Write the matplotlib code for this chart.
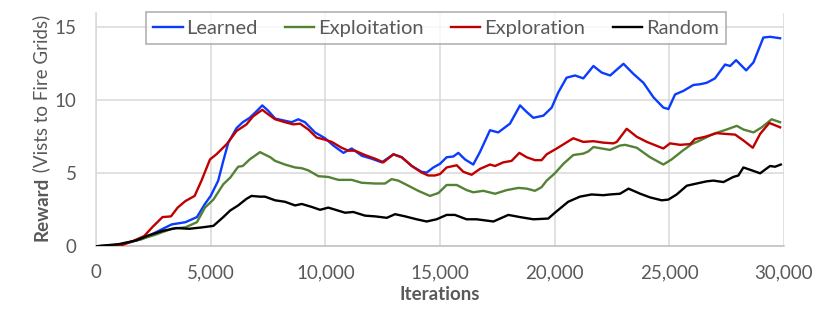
import matplotlib
matplotlib.use("Agg")
import matplotlib.pyplot as plt

# values
learned_x = [0, 1000, 1450, 2000, 2600, 3300, 3900, 4400, 4750, 5000, 5330, 5550, 5770, 6130,
             6400, 6700, 7000, 7250, 7500, 7810, 8530, 8820, 9110, 9550, 9990, 10350, 10790,
             11150, 11590, 12020, 12460, 12970, 13330, 13770, 14200, 14420, 14710, 15000,
             15290, 15580, 15800, 16090, 16450, 16740, 17180, 17540, 18050, 18490, 18780,
             19070, 19510, 19870, 20160, 20520, 20890, 21250, 21690, 22050, 22420, 23000,
             23440, 23870, 24310, 24740, 24960, 25250, 25620, 26050, 26340, 26630, 26990,
             27430, 27650, 27910, 28350, 28670, 29100, 29390, 29830]
learned_y = [0, 0.1, 0.27, 0.5, 0.95, 1.5, 1.65, 2.0, 2.9, 3.45, 4.5, 5.85, 7.1, 8.1,
             8.5, 8.8, 9.25, 9.65, 9.3, 8.75, 8.5, 8.7, 8.5, 7.8, 7.4, 6.9, 6.4,
             6.7, 6.2, 6.0, 5.75, 6.3, 6.1, 5.5, 5.1, 5.05, 5.4, 5.65,
             6.1, 6.15, 6.4, 5.95, 5.6, 6.45, 7.95, 7.8, 8.4, 9.65, 9.2,
             8.8, 8.95, 9.5, 10.55, 11.55, 11.7, 11.5, 12.35, 11.9, 11.7, 12.5,
             11.8, 11.2, 10.2, 9.5, 9.4, 10.4, 10.65, 11.05, 11.1, 11.2, 11.5,
             12.45, 12.35, 12.75, 12.05, 12.6, 14.3, 14.35, 14.25]

exploit_x = [0, 1000, 2000, 2600, 3300, 3900, 4400, 4750, 5120, 5550, 5850, 6200, 6400, 6700,
             7150, 7600, 7810, 8240, 8680, 8970, 9260, 9700, 10130, 10570, 11150, 11590,
             12170, 12600, 12890, 13180, 13620, 14050, 14560, 14930, 15290, 15730, 16160,
             16450, 16890, 17400, 17910, 18420, 18780, 19140, 19430, 19650, 20010, 20380,
             20810, 21250, 21470, 21690, 22410, 22850, 23070, 23580, 24160, 24740, 25100,
             25540, 25980, 26340, 26920, 27500, 27940, 28230, 28670, 29030, 29460, 29830]
exploit_y = [0, 0.1, 0.5, 0.8, 1.2, 1.3, 1.65, 2.65, 3.2, 4.25, 4.7, 5.45, 5.5, 5.95,
             6.45, 6.1, 5.85, 5.6, 5.4, 5.35, 5.2, 4.8, 4.75, 4.55, 4.55, 4.35,
             4.3, 4.3, 4.6, 4.5, 4.15, 3.8, 3.45, 3.65, 4.2, 4.2, 3.85,
             3.7, 3.8, 3.6, 3.85, 4.0, 3.95, 3.8, 4.05, 4.5, 5.0, 5.65,
             6.25, 6.35, 6.5, 6.8, 6.6, 6.9, 6.95, 6.75, 6.1, 5.6, 5.95,
             6.5, 7.0, 7.25, 7.7, 8.0, 8.25, 8.0, 7.8, 8.15, 8.7, 8.5]

explore_x = [0, 1000, 1600, 2100, 2450, 2900, 3270, 3560, 3900, 4300, 4600, 4970, 5250, 5700,
             6130, 6560, 6850, 7250, 7500, 7810, 8240, 8600, 8900, 9260, 9620, 9990, 10280,
             10710, 11000, 11290, 11730, 12170, 12530, 12970, 13330, 13770, 14200, 14490,
             14780, 15000, 15290, 15730, 16020, 16380, 16740, 17180, 17400, 17760, 18120,
             18460, 18780, 19140, 19430, 19650, 20090, 20450, 20810, 21250, 21690, 22120,
             22560, 22710, 23140, 23580, 24020, 24740, 25030, 25470, 25910, 26120, 26560,
             27060, 27430, 27870, 28230, 28640, 28960, 29360, 29830]
explore_y = [0, 0.0, 0.35, 0.7, 1.3, 2.0, 2.05, 2.65, 3.1, 3.45, 4.5, 5.95, 6.3, 7.0,
             7.9, 8.35, 8.9, 9.35, 9.05, 8.7, 8.5, 8.35, 8.4, 8.0, 7.45, 7.3, 7.15,
             6.75, 6.55, 6.55, 6.25, 6.0, 5.75, 6.3, 6.1, 5.5, 5.05, 4.85,
             4.85, 4.95, 5.4, 5.55, 5.1, 4.9, 5.3, 5.6, 5.5, 5.75, 5.85,
             6.4, 6.1, 5.9, 5.9, 6.3, 6.7, 7.05, 7.4, 7.15, 7.2, 7.1,
             7.05, 7.15, 8.05, 7.5, 7.15, 6.7, 7.05, 6.95, 7.0, 7.35, 7.5,
             7.75, 7.7, 7.65, 7.25, 6.75, 7.7, 8.45, 8.15]

random_x = [0, 1000, 1750, 2300, 2900, 3500, 4070, 4650, 5120, 5550, 5850, 6200, 6560, 6780,
            7150, 7370, 7810, 8240, 8680, 8970, 9400, 9770, 10130, 10860, 11220, 11730,
            12170, 12680, 13040, 13480, 13980, 14420, 14850, 15290, 15650, 16160, 16600,
            17330, 17980, 18490, 19070, 19720, 20010, 20590, 21100, 21610, 22120, 22410,
            22850, 23220, 23730, 24160, 24670, 24960, 25320, 25760, 26190, 26630, 26920,
            27360, 27790, 28010, 28230, 28600, 28960, 29390, 29610, 29860]
random_y = [0, 0.15, 0.4, 0.75, 1.05, 1.25, 1.2, 1.3, 1.4, 2.0, 2.45, 2.8, 3.25, 3.45,
            3.4, 3.4, 3.15, 3.05, 2.8, 2.9, 2.7, 2.5, 2.65, 2.3, 2.35, 2.1,
            2.05, 1.95, 2.2, 2.05, 1.85, 1.7, 1.85, 2.15, 2.15, 1.85, 1.85,
            1.7, 2.15, 2.0, 1.85, 1.9, 2.3, 3.05, 3.4, 3.55, 3.5, 3.55,
            3.6, 3.95, 3.6, 3.35, 3.15, 3.2, 3.55, 4.15, 4.3, 4.45, 4.5,
            4.4, 4.75, 4.85, 5.4, 5.2, 5.0, 5.5, 5.45, 5.6]

x_ticks = [0, 5000, 10000, 15000, 20000, 25000, 30000]
x_tick_labels = ["0", "5,000", "10,000", "15,000", "20,000", "25,000", "30,000"]
y_ticks = [0, 5, 10, 15]

text_color = "#595959"
grid_color = "#d9d9d9"
plt.rcParams["font.family"] = ["Lato", "DejaVu Sans"]

fig = plt.figure(figsize=(8.3, 3.12), dpi=100)
ax = fig.add_axes([96 / 830, 1 - 246.3 / 312, 688 / 830, 233.6 / 312])

lw = 1.7
ax.plot(learned_x, learned_y, color="#0a3cff", lw=lw, label="Learned", solid_joinstyle="round", zorder=3)
ax.plot(exploit_x, exploit_y, color="#548235", lw=lw, label="Exploitation", solid_joinstyle="round", zorder=3)
ax.plot(explore_x, explore_y, color="#c00000", lw=lw, label="Exploration", solid_joinstyle="round", zorder=3)
ax.plot(random_x, random_y, color="#000000", lw=lw, label="Random", solid_joinstyle="round", zorder=3)

ax.set_xlim(0, 30000)
ax.set_ylim(0, 16)
ax.set_xticks(x_ticks)
ax.set_xticklabels(x_tick_labels)
ax.set_yticks(y_ticks)
ax.tick_params(length=0, labelsize=13.5, colors=text_color)
ax.tick_params(axis="x", pad=13)
ax.tick_params(axis="y", pad=14)
ax.grid(True, color=grid_color, lw=1.1, zorder=0)
ax.set_axisbelow(True)
for side in ["top", "right"]:
    ax.spines[side].set_visible(False)
ax.spines["left"].set_color(grid_color)
ax.spines["left"].set_linewidth(1.1)
ax.spines["bottom"].set_color("#bfbfbf")
ax.spines["bottom"].set_linewidth(1.1)

ax.set_xlabel("Iterations", fontsize=13.5, fontweight="bold", color=text_color, labelpad=3)

# y label: bold "Reward" followed by regular text
t1 = fig.text(41.7 / 830, 1 - 241 / 312, "Reward", rotation=90, fontsize=13.5, fontweight="bold",
              color=text_color, ha="center", va="bottom")
ax.annotate(" (Vists to Fire Grids)", xy=(0.5, 1), xycoords=t1, rotation=90, fontsize=13.5,
            color=text_color, ha="center", va="bottom", annotation_clip=False)

leg = fig.legend(loc="center", bbox_to_anchor=(436 / 830, 1 - 28 / 312), ncol=4, fontsize=14.5,
                 frameon=True, fancybox=False, handlelength=1.45, handletextpad=0.2,
                 columnspacing=1.35, borderpad=0.35)
leg.get_frame().set_edgecolor("#a0a0a0")
leg.get_frame().set_linewidth(1.2)
for t in leg.get_texts():
    t.set_color(text_color)

fig.savefig("out.png", dpi=100)
plt.close(fig)
